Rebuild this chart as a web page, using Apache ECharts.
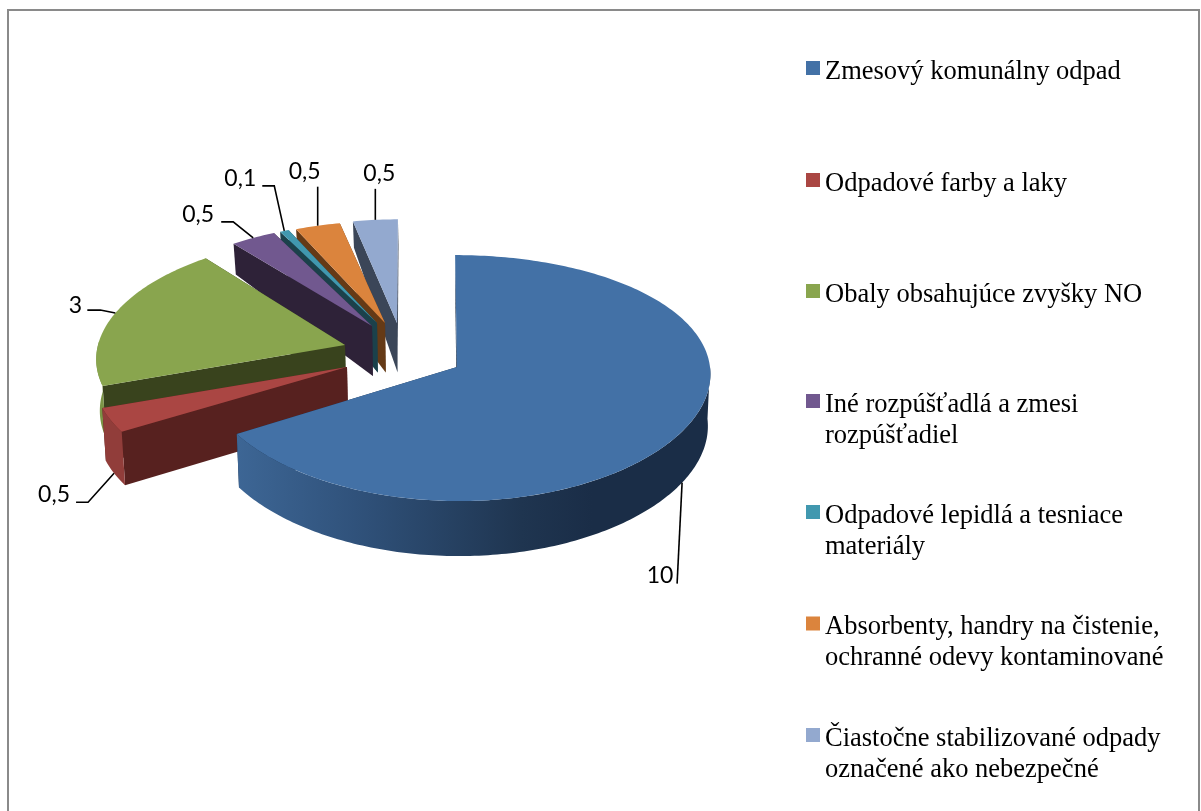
<!DOCTYPE html>
<html>
<head>
<meta charset="utf-8">
<style>html,body{margin:0;padding:0;background:#fff;overflow:hidden}#c{width:1201px;height:811px}</style>
<script src="https://cdn.jsdelivr.net/npm/echarts@6/dist/echarts.min.js"></script>
</head>
<body>
<div id="c"></div>
<script>
// ---- data ----
const categories = [
  'Zmesový komunálny odpad',
  'Odpadové farby a laky',
  'Obaly obsahujúce zvyšky NO',
  'Iné rozpúšťadlá a zmesi\nrozpúšťadiel',
  'Odpadové lepidlá a tesniace\nmateriály',
  'Absorbenty, handry na čistenie,\nochranné odevy kontaminované',
  'Čiastočne stabilizované odpady\noznačené ako nebezpečné'
];
const values = [10, 0.5, 3, 0.5, 0.1, 0.5, 0.5];

// ---- styles ----
const topColors  = ['#4371a6', '#aa4643', '#89a54e', '#71588f', '#4198af', '#db843d', '#93a9cf'];
const wallColors = ['#1a2f4a', '#57211f', '#39431d', '#2e2238', '#1b414b', '#653a16', '#3b4658'];
const rimColors  = [
  {type:'linear',x:0,y:0,x2:1,y2:0,colorStops:[
    {offset:0,color:'#3d6695'},{offset:0.25,color:'#30527b'},{offset:0.6,color:'#1f3550'},{offset:0.75,color:'#1a2d47'},{offset:1,color:'#1a2d47'}]},
  '#913d3a', '#7b9546', '#5f4a78', '#357f92', '#b86f33', '#7c8fae'
];
// ---- 3D layout of each exploded slice: apex x, apex y, radius x, radius y, lean, x perspective ----
const geometry = [
  [457, 367, 253, 122, -2, 0.05],
  [347, 367, 252, 118, 0, 0.09],
  [345, 345, 247, 118, 0, 0.12],
  [372, 326, 240, 112, 0, 0.09],
  [377, 323, 237, 110, 0, 0.09],
  [385, 323, 238, 111, 0, 0.09],
  [397, 323, 237, 113, 1, 0.09]
];
// offsets from the slice's mid-arc anchor: leader elbow, leader end, label centre
const leaders = [
  [null,     [-5, 101], [-22, 93]],
  [[-26, 29], [-38, 29], [-60, 21]],
  [[-15, -3], [-28, -3], [-40, -8]],
  [[-20, -16], [-32, -16], [-55, -23]],
  [[-10, -45], [-22, -45], [-44, -52]],
  [null,     [0, -39], [-13, -54]],
  [null,     [0, -31], [4, -46]]
];
const legendTops = [56.5, 168.5, 279.5, 389.5, 500.5, 612, 723.5];
// square icon; the zero-width tail only stretches the icon box so the square sits on the first text line
const oneLineIcon = 'path://M0 0h14v14H0z M0 22h0.01';
const twoLineIcon = 'path://M0 0h14v14H0z M0 53h0.01';

const total = values.reduce((a, b) => a + b, 0);
const Y_PERSP = 0.09;

function depthAt(y) {
  const t = [[220, 26], [245, 31], [325, 50], [370, 52], [500, 55], [600, 56]];
  if (y <= t[0][0]) return t[0][1];
  for (let i = 1; i < t.length; i++) {
    if (y <= t[i][0]) {
      const f = (y - t[i-1][0]) / (t[i][0] - t[i-1][0]);
      return t[i-1][1] + f * (t[i][1] - t[i-1][1]);
    }
  }
  return t[t.length-1][1];
}
function project(g, deg) {
  const a = deg * Math.PI / 180, u = Math.sin(a), v = Math.cos(a);
  return [g[0] + (g[2] * u + g[4] * v) / (1 + g[5] * v), g[1] - g[3] * v / (1 + Y_PERSP * v)];
}
function drop(p) {
  return [p[0] + (457 - p[0]) * 0.01, p[1] + depthAt(p[1])];
}
function arc(g, a0, a1) {
  const pts = [], n = Math.max(2, Math.ceil(Math.abs(a1 - a0)));
  for (let i = 0; i <= n; i++) pts.push(project(g, a0 + (a1 - a0) * i / n));
  return pts;
}

function renderSlice(idx) {
  return function (params, api) {
    const value = api.value(0);
    let before = 0;
    for (let i = 0; i < idx; i++) before += values[i];
    const a0 = before / total * 360, a1 = a0 + value / total * 360;
    const g = geometry[idx], apex = [g[0], g[1]];
    const children = [];
    const poly = (points, fill) => children.push({type:'polygon', shape:{points}, style:{fill, stroke:null}});

    // radial walls
    [a1, a0].forEach(a => {
      const p = project(g, a);
      poly([apex, p, drop(p), drop(apex)], wallColors[idx]);
    });
    // front rim: only the part of the arc turned toward the viewer
    const lo = Math.max(a0, 90), hi = Math.min(a1, 272);
    if (hi > lo) {
      const top = arc(g, lo, hi);
      poly(top.concat(top.map(drop).reverse()), rimColors[idx]);
    }
    // top face
    poly([apex].concat(arc(g, a0, a1)), topColors[idx]);

    // leader + label from the middle of the arc
    const mid = (a0 + a1) / 2, m = project(g, mid);
    const anchor = Math.cos(mid * Math.PI / 180) < 0 ? drop(m) : m;
    const L = leaders[idx];
    const pts = [anchor];
    if (L[0]) pts.push([anchor[0] + L[0][0], anchor[1] + L[0][1]]);
    pts.push([anchor[0] + L[1][0], anchor[1] + L[1][1]]);
    children.push({type:'polyline', shape:{points:pts}, style:{stroke:'#000', lineWidth:1.6, fill:null}, z2:50});
    children.push({type:'text', z2:50, style:{
      x: anchor[0] + L[2][0], y: anchor[1] + L[2][1],
      text: String(value).replace('.', ','),
      fontFamily: 'Lato', fontSize: 23, fill: '#000',
      align: 'center', verticalAlign: 'middle'
    }});
    return {type:'group', children};
  };
}

const series = categories.map((name, i) => ({
  type: 'custom',
  name,
  coordinateSystem: 'none',
  data: [[values[i]]],
  z: 10 + (i === 0 ? 7 : i === 1 ? 6 : i === 2 ? 5 : 7 - i),
  itemStyle: {color: topColors[i]},
  renderItem: renderSlice(i),
  silent: true
}));

const legend = categories.map((name, i) => {
  const twoLines = name.indexOf('\n') >= 0;
  return {
    data: [name],
    left: 806,
    top: legendTops[i],
    orient: 'vertical',
    itemWidth: 14,
    itemHeight: twoLines ? 53 : 22,
    itemGap: 0,
    selectedMode: false,
    icon: twoLines ? twoLineIcon : oneLineIcon,
    padding: 0,
    itemStyle: {borderWidth: 0},
    textStyle: {
      fontFamily: 'Liberation Serif',
      fontSize: 26.5,
      lineHeight: 31,
      color: '#000'
    }
  };
});

const chart = echarts.init(document.getElementById('c'), null, {renderer: 'canvas'});
chart.setOption({
  animation: false,
  backgroundColor: '#fff',
  legend,
  series,
  graphic: [{
    type: 'rect', silent: true, z: 1,
    shape: {x: 8, y: 10, width: 1191, height: 815},
    style: {fill: null, stroke: '#8a8a8a', lineWidth: 2}
  }]
});
</script>
</body>
</html>
